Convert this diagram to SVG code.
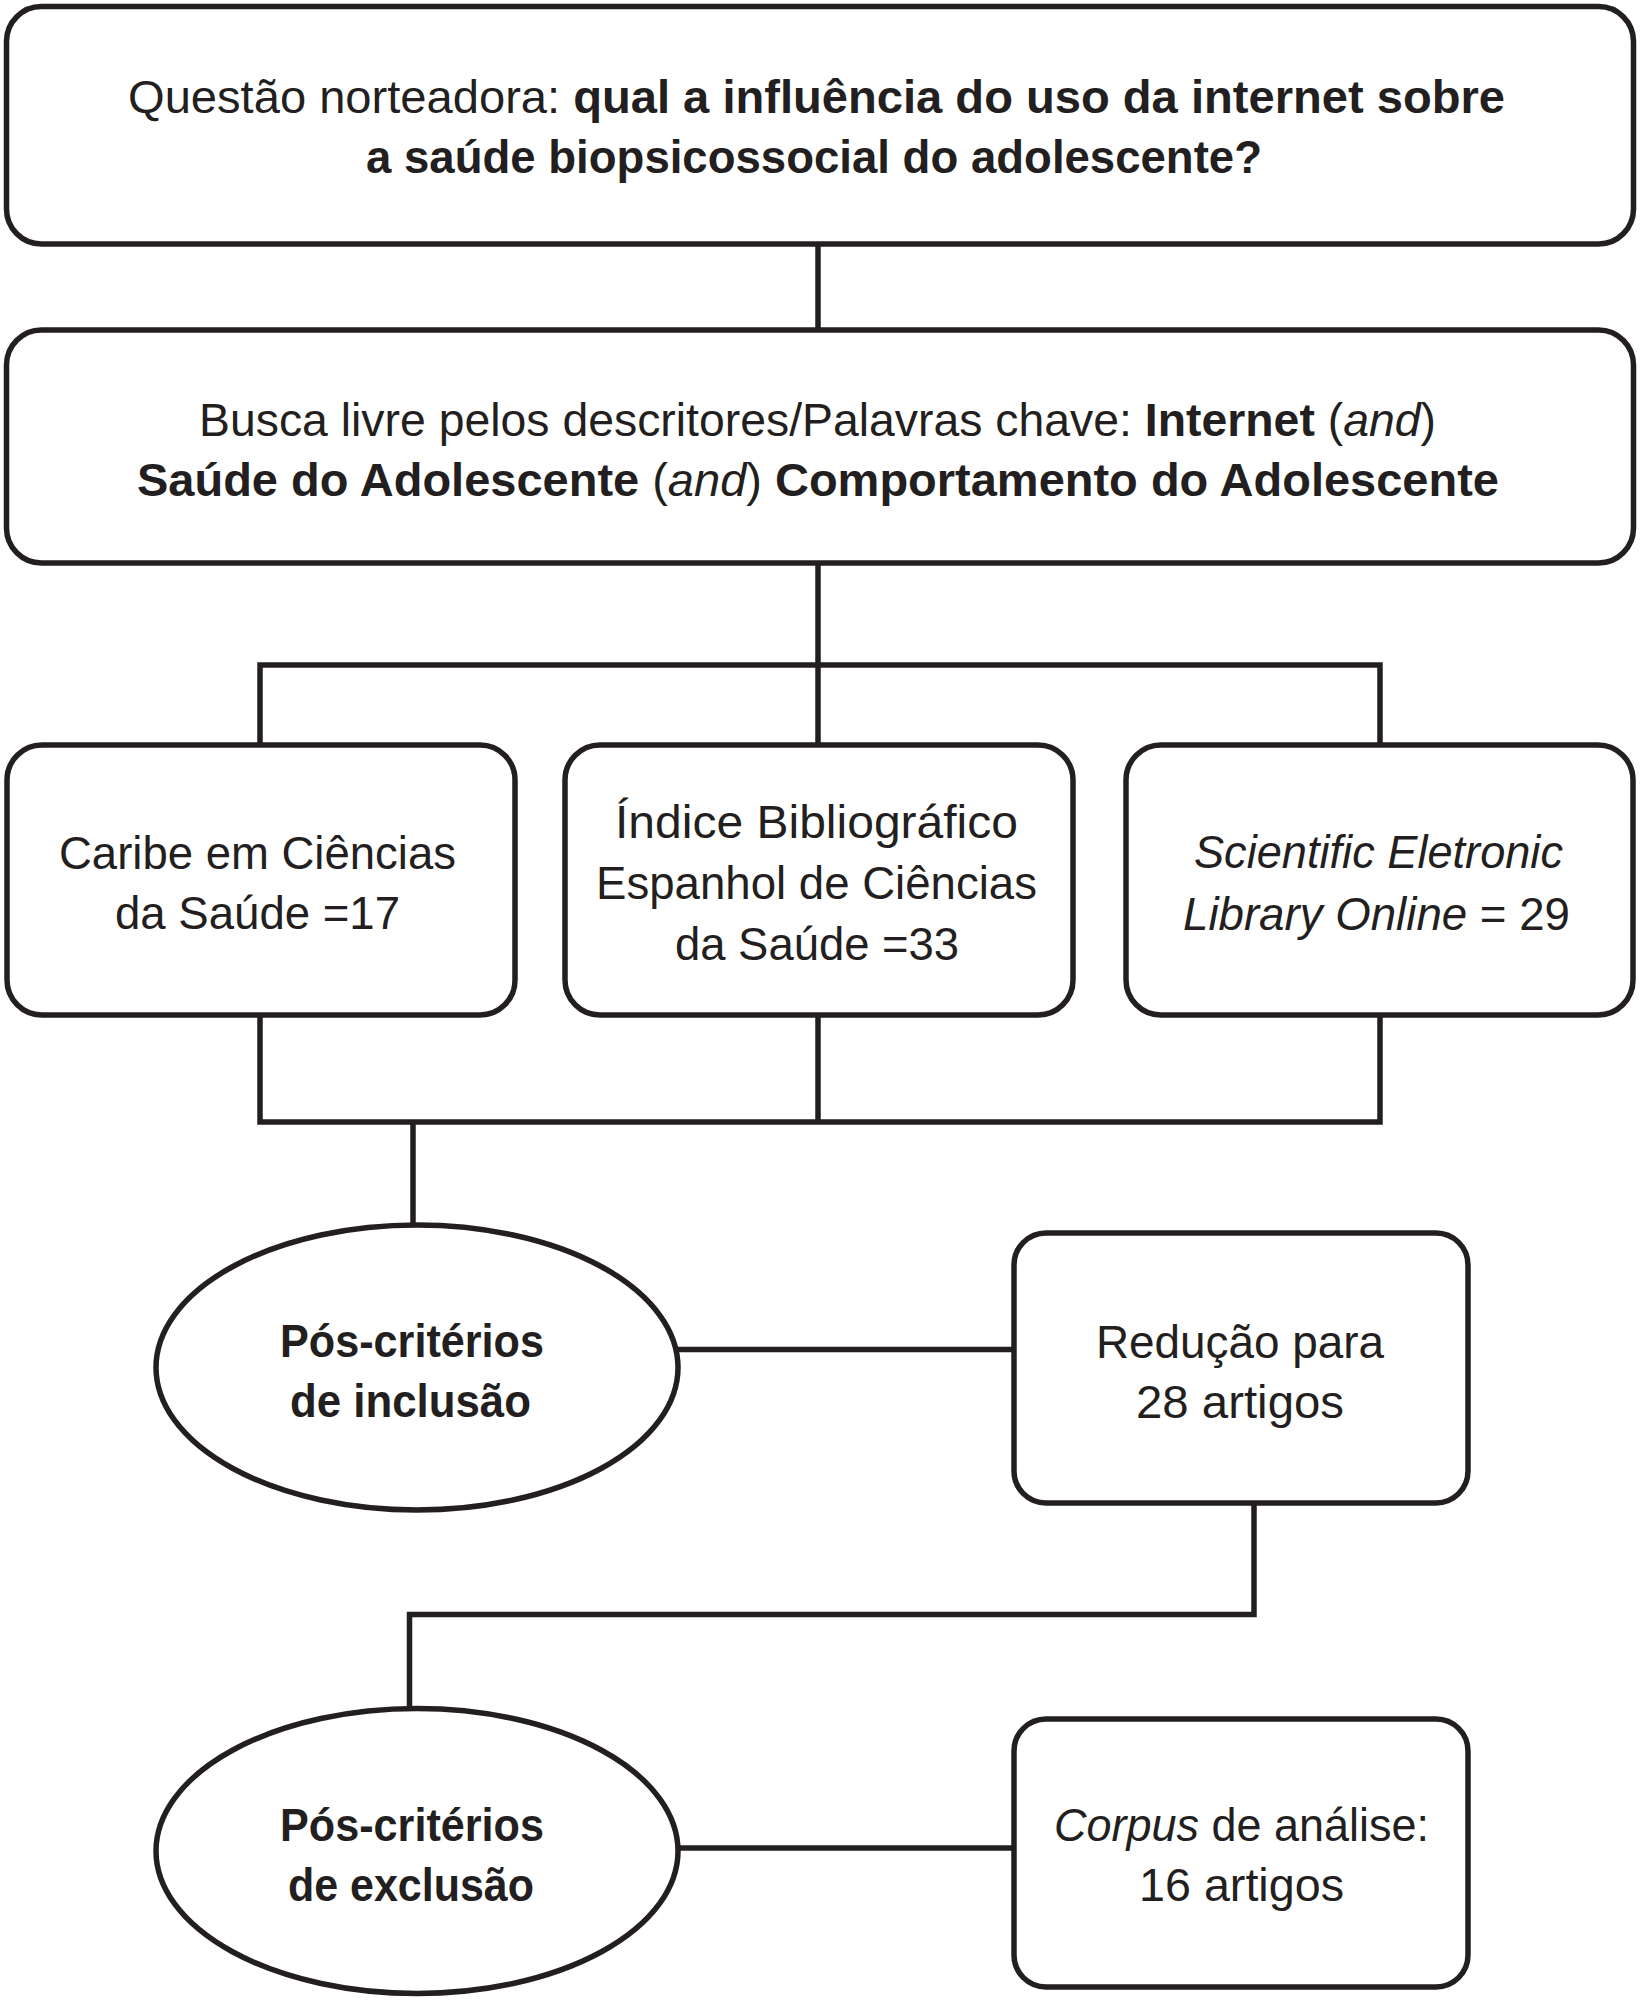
<svg xmlns="http://www.w3.org/2000/svg" width="1641" height="2000" viewBox="0 0 1641 2000">
<style>
  .box { fill: #ffffff; stroke: #231f20; stroke-width: 5.5; }
  .conn { fill: none; stroke: #231f20; stroke-width: 5.5; stroke-linejoin: miter; stroke-linecap: butt; }
  text { font-family: "Liberation Sans", Arial, sans-serif; font-size: 46px; fill: #231f20; text-anchor: middle; }
  .b { font-weight: bold; }
  .i { font-style: italic; }
</style>
<rect x="0" y="0" width="1641" height="2000" fill="#ffffff"/>

<g id="connectors">
  <path class="conn" d="M818,244 V330"/>
  <path class="conn" d="M818,563 V745"/>
  <path class="conn" d="M260,745 V665 H1380 V745"/>
  <path class="conn" d="M260,1015 V1122 H1380 V1015"/>
  <path class="conn" d="M818,1015 V1122"/>
  <path class="conn" d="M413,1122 V1225"/>
  <path class="conn" d="M678,1349.5 H1014"/>
  <path class="conn" d="M1254,1503 V1614.5 H409.5 V1708.5"/>
  <path class="conn" d="M678,1848 H1014"/>
</g>

<g id="node-questao">
  <rect class="box" x="6.5" y="6.5" width="1627" height="237.5" rx="35" ry="35"/>
  <text x="816.5" y="113" textLength="1377" lengthAdjust="spacingAndGlyphs">Questão norteadora: <tspan class="b">qual a influência do uso da internet sobre</tspan></text>
  <text x="814" y="173" textLength="896" lengthAdjust="spacingAndGlyphs" class="b">a saúde biopsicossocial do adolescente?</text>
</g>

<g id="node-busca">
  <rect class="box" x="6.5" y="330" width="1627" height="233" rx="35" ry="35"/>
  <text x="817.5" y="436" textLength="1237" lengthAdjust="spacingAndGlyphs">Busca livre pelos descritores/Palavras chave: <tspan class="b">Internet</tspan> (<tspan class="i">and</tspan>)</text>
  <text x="818" y="496" textLength="1362" lengthAdjust="spacingAndGlyphs"><tspan class="b">Saúde do Adolescente</tspan> (<tspan class="i">and</tspan>) <tspan class="b">Comportamento do Adolescente</tspan></text>
</g>

<g id="node-caribe">
  <rect class="box" x="7" y="745" width="508" height="270" rx="35" ry="35"/>
  <text x="257.5" y="869" textLength="397" lengthAdjust="spacingAndGlyphs">Caribe em Ciências</text>
  <text x="257.5" y="929" textLength="285" lengthAdjust="spacingAndGlyphs">da Saúde =17</text>
</g>

<g id="node-indice">
  <rect class="box" x="565" y="745" width="508" height="270" rx="35" ry="35"/>
  <text x="816.5" y="838" textLength="403" lengthAdjust="spacingAndGlyphs">Índice Bibliográfico</text>
  <text x="816.5" y="899" textLength="441" lengthAdjust="spacingAndGlyphs">Espanhol de Ciências</text>
  <text x="817" y="960" textLength="284" lengthAdjust="spacingAndGlyphs">da Saúde =33</text>
</g>

<g id="node-scielo">
  <rect class="box" x="1126" y="745" width="507" height="270" rx="35" ry="35"/>
  <text x="1378.5" y="868" textLength="369" lengthAdjust="spacingAndGlyphs" class="i">Scientific Eletronic</text>
  <text x="1376.5" y="930" textLength="387" lengthAdjust="spacingAndGlyphs"><tspan class="i">Library Online</tspan> = 29</text>
</g>

<g id="node-inclusao">
  <ellipse class="box" cx="417" cy="1367.5" rx="261" ry="142.5"/>
  <text x="412" y="1357" textLength="264" lengthAdjust="spacingAndGlyphs" class="b">Pós-critérios</text>
  <text x="410.5" y="1417" textLength="241" lengthAdjust="spacingAndGlyphs" class="b">de inclusão</text>
</g>

<g id="node-reducao">
  <rect class="box" x="1014" y="1233" width="454" height="270" rx="32" ry="32"/>
  <text x="1240" y="1358" textLength="288" lengthAdjust="spacingAndGlyphs">Redução para</text>
  <text x="1240" y="1418" textLength="208" lengthAdjust="spacingAndGlyphs">28 artigos</text>
</g>

<g id="node-exclusao">
  <ellipse class="box" cx="417" cy="1851" rx="261" ry="142.5"/>
  <text x="412" y="1841" textLength="264" lengthAdjust="spacingAndGlyphs" class="b">Pós-critérios</text>
  <text x="411" y="1901" textLength="246" lengthAdjust="spacingAndGlyphs" class="b">de exclusão</text>
</g>

<g id="node-corpus">
  <rect class="box" x="1014" y="1719" width="454" height="268" rx="32" ry="32"/>
  <text x="1241.5" y="1841" textLength="375" lengthAdjust="spacingAndGlyphs"><tspan class="i">Corpus</tspan> de análise:</text>
  <text x="1241.5" y="1901" textLength="205" lengthAdjust="spacingAndGlyphs">16 artigos</text>
</g>
</svg>
